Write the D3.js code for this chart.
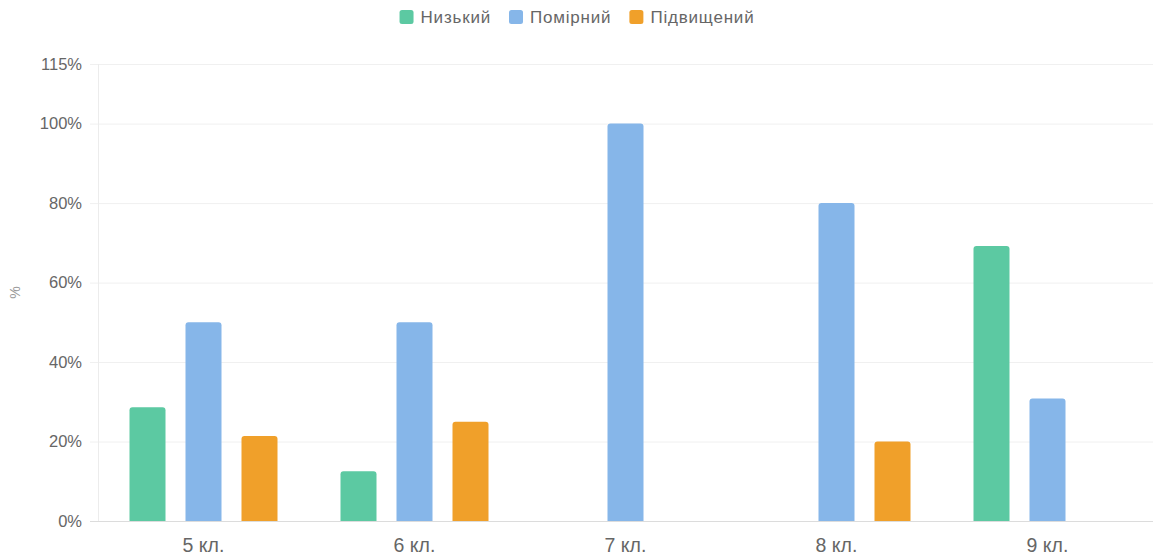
<!DOCTYPE html>
<html><head><meta charset="utf-8">
<script src="https://cdn.jsdelivr.net/npm/d3@7"></script>
<style>body{margin:0;background:#fff;} text{font-family:"Liberation Sans",Arial,sans-serif;}</style>
</head><body>
<svg id="c" width="1155" height="559"></svg>
<script>
const categories = ["5 кл.", "6 кл.", "7 кл.", "8 кл.", "9 кл."];
const seriesNames = ["Низький", "Помірний", "Підвищений"];
const colors = ["#5cc9a2", "#86b6e9", "#f0a02a"];
const low = [28.6, 12.5, 0, 0, 69.2];
const moderate = [50, 50, 100, 80, 30.8];
const high = [21.4, 25, 0, 20, 0];
const yTicks = [0, 20, 40, 60, 80, 100, 115];

const series = [low, moderate, high];
const svg = d3.select("#c");
const m = {l: 98, r: 2, t: 64, b: 38};
const W = 1155, H = 559;
const x = d3.scaleBand().domain(categories).range([m.l, W - m.r]).padding(0);
const y = d3.scaleLinear().domain([0, 115]).range([H - m.b, m.t]);

// grid
svg.append("g").selectAll("line").data(yTicks).join("line")
  .attr("x1", m.l - 8).attr("x2", W - m.r)
  .attr("y1", d => y(d) + 0.5).attr("y2", d => y(d) + 0.5)
  .attr("stroke", d => d === 0 ? "#dcdcdc" : "#f0f0f0").attr("stroke-width", 1);
// y axis line
svg.append("line").attr("x1", m.l + 0.5).attr("x2", m.l + 0.5)
  .attr("y1", m.t).attr("y2", H - m.b).attr("stroke", "#ececec");

svg.append("g").selectAll("text").data(yTicks).join("text")
  .attr("x", m.l - 16).attr("y", d => y(d)).attr("dy", "0.35em")
  .attr("text-anchor", "end").attr("fill", "#666").attr("font-size", 16.5)
  .text(d => d + "%");

svg.append("text").attr("transform", `translate(20,${(m.t + H - m.b) / 2}) rotate(-90)`)
  .attr("text-anchor", "middle").attr("fill", "#999").attr("font-size", 14).text("%");

svg.append("g").selectAll("text").data(categories).join("text")
  .attr("x", d => x(d) + x.bandwidth() / 2).attr("y", H - m.b + 31)
  .attr("text-anchor", "middle").attr("fill", "#666").attr("font-size", 19.5)
  .text(d => d);

const bw = 36;
function barPath(x0, y0, w, h, r) {
  if (h <= 0) return "";
  r = Math.min(r, h, w / 2);
  return `M${x0},${y0 + h}V${y0 + r}Q${x0},${y0} ${x0 + r},${y0}H${x0 + w - r}Q${x0 + w},${y0} ${x0 + w},${y0 + r}V${y0 + h}Z`;
}
series.forEach((vals, si) => {
  svg.append("g").selectAll("path").data(vals.map((v, i) => ({v, c: categories[i]}))).join("path")
    .attr("fill", colors[si])
    .attr("d", d => {
      const cx = x(d.c) + x.bandwidth() / 2 + (si - 1) * 56;
      return barPath(cx - bw / 2, y(d.v), bw, y(0) - y(d.v), 3);
    });
});

// legend
const leg = svg.append("g");
let cx = 0;
seriesNames.forEach((n, i) => {
  const g = leg.append("g");
  g.append("rect").attr("x", 0).attr("y", 10).attr("width", 14).attr("height", 14).attr("rx", 2.5).attr("fill", colors[i]);
  const t = g.append("text").attr("x", 21).attr("y", 17.5).attr("dy", "0.35em").attr("fill", "#666")
    .attr("font-size", 17).attr("letter-spacing", 0.8).text(n);
  const w = 21 + t.node().getComputedTextLength();
  g.attr("transform", `translate(${cx},0)`);
  cx += w + 18;
});
const total = cx - 18;
leg.attr("transform", `translate(${577 - total / 2},0)`);
</script>
</body></html>
